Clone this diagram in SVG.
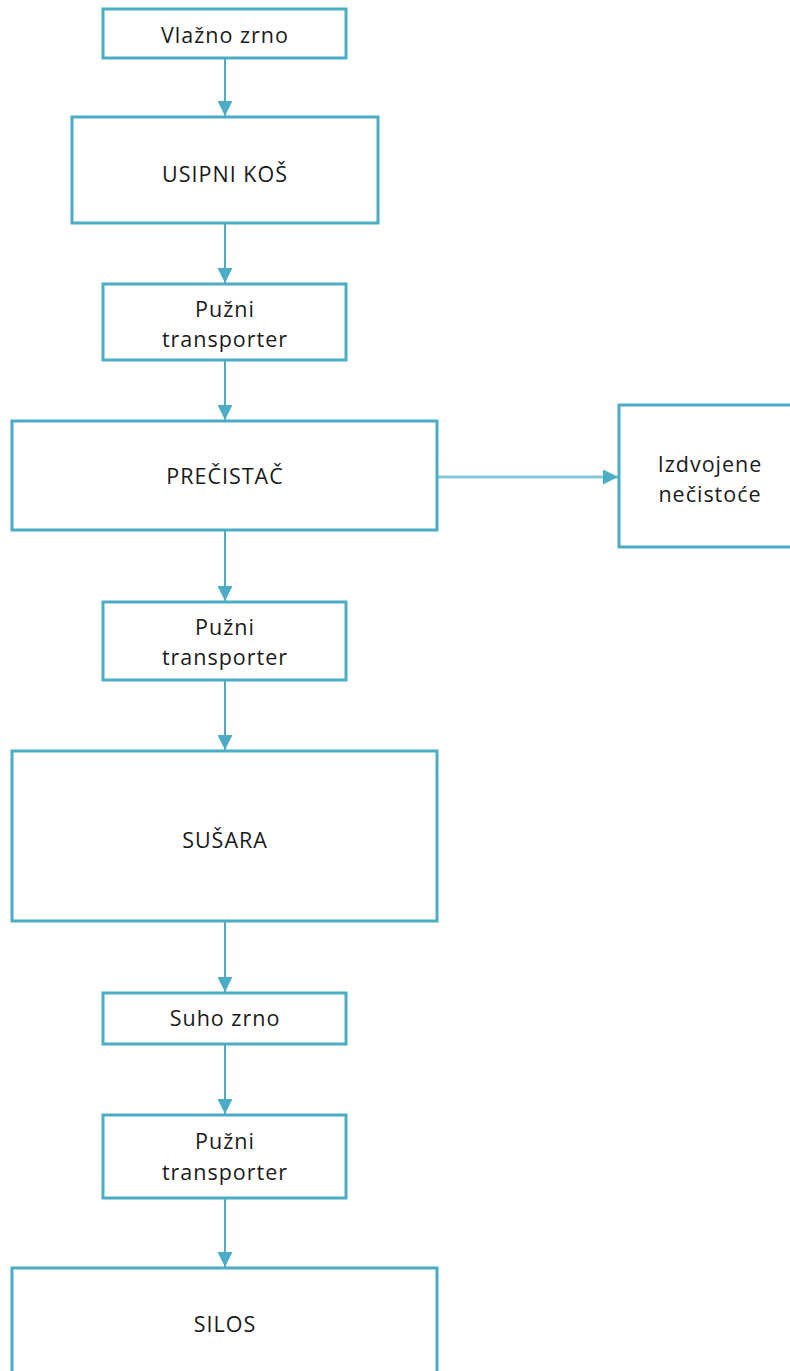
<svg xmlns="http://www.w3.org/2000/svg" width="790" height="1371" viewBox="0 0 790 1371">
<defs>
<style>
.box{fill:#ffffff;stroke:#4bacc6;stroke-width:3}
.lbl{font-family:"Open Sans","Noto Sans","DejaVu Sans",sans-serif;font-size:21.5px;fill:#1a1a1a;text-anchor:middle;letter-spacing:1px}
.conn{stroke:#4bacc6;stroke-width:2;fill:none}
.connl{stroke:#86c8da;stroke-width:3;fill:none}
</style>
<marker id="ah" markerUnits="userSpaceOnUse" markerWidth="15" markerHeight="15" viewBox="0 0 15 15" refX="15" refY="7.5" orient="auto">
<path d="M0,0 L15,7.5 L0,15 Z" fill="#4bacc6"/>
</marker>
</defs>
<rect width="790" height="1371" fill="#ffffff"/>
<g id="connectors">
<line class="conn" x1="225" y1="58" x2="225" y2="116" marker-end="url(#ah)"/>
<line class="conn" x1="225" y1="223" x2="225" y2="283" marker-end="url(#ah)"/>
<line class="conn" x1="225" y1="360" x2="225" y2="420" marker-end="url(#ah)"/>
<line class="connl" x1="437" y1="477" x2="618" y2="477" marker-end="url(#ah)"/>
<line class="conn" x1="225" y1="530" x2="225" y2="601" marker-end="url(#ah)"/>
<line class="conn" x1="225" y1="680" x2="225" y2="750" marker-end="url(#ah)"/>
<line class="conn" x1="225" y1="921" x2="225" y2="992" marker-end="url(#ah)"/>
<line class="conn" x1="225" y1="1044" x2="225" y2="1114" marker-end="url(#ah)"/>
<line class="conn" x1="225" y1="1198" x2="225" y2="1267" marker-end="url(#ah)"/>
</g>
<g id="n1"><rect class="box" x="103" y="9" width="243" height="49"/><text class="lbl" x="225" y="43">Vlažno zrno</text></g>
<g id="n2"><rect class="box" x="72" y="117" width="306" height="106"/><text class="lbl" x="225" y="182">USIPNI KOŠ</text></g>
<g id="n3"><rect class="box" x="103" y="284" width="243" height="76"/><text class="lbl" x="225" y="317">Pužni</text><text class="lbl" x="225" y="347">transporter</text></g>
<g id="n4"><rect class="box" x="12" y="421" width="425" height="109"/><text class="lbl" x="225" y="484">PREČISTAČ</text></g>
<g id="n5"><rect class="box" x="619" y="405" width="180" height="142"/><text class="lbl" x="710" y="472">Izdvojene</text><text class="lbl" x="710" y="502">nečistoće</text></g>
<g id="n6"><rect class="box" x="103" y="602" width="243" height="78"/><text class="lbl" x="225" y="635">Pužni</text><text class="lbl" x="225" y="665">transporter</text></g>
<g id="n7"><rect class="box" x="12" y="751" width="425" height="170"/><text class="lbl" x="225" y="848">SUŠARA</text></g>
<g id="n8"><rect class="box" x="103" y="993" width="243" height="51"/><text class="lbl" x="225" y="1026">Suho zrno</text></g>
<g id="n9"><rect class="box" x="103" y="1115" width="243" height="83"/><text class="lbl" x="225" y="1149">Pužni</text><text class="lbl" x="225" y="1180">transporter</text></g>
<g id="n10"><rect class="box" x="12" y="1268" width="425" height="120"/><text class="lbl" x="225" y="1332">SILOS</text></g>
</svg>
